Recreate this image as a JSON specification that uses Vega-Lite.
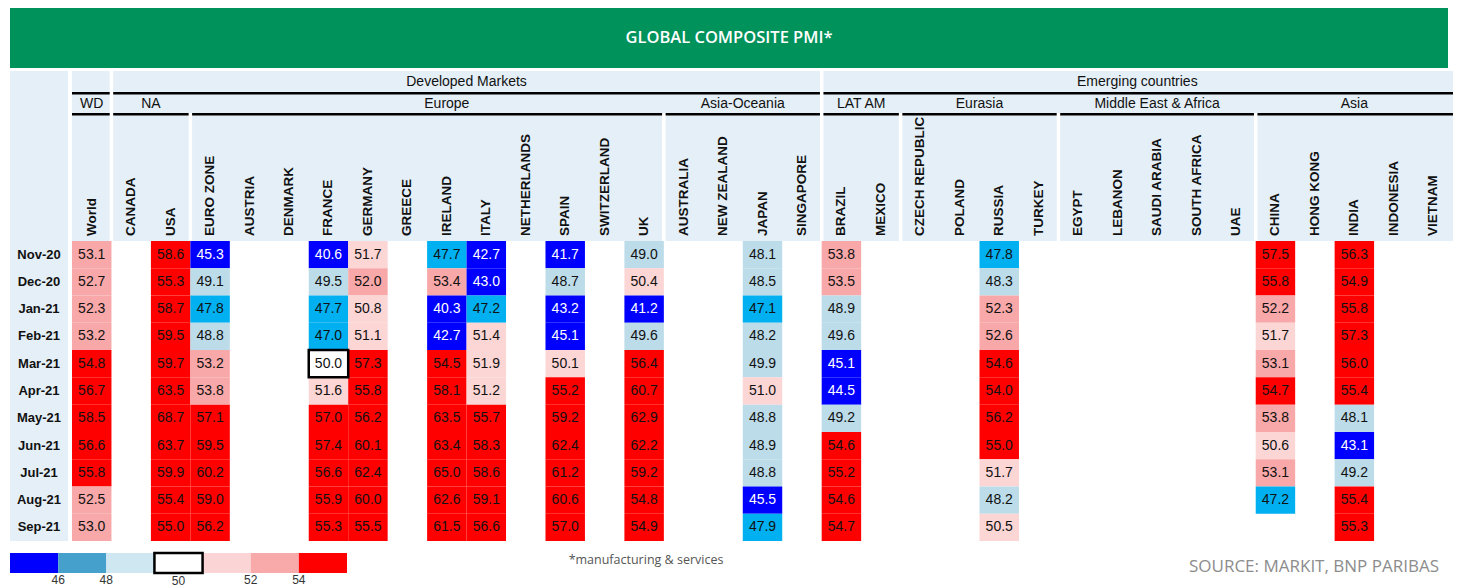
{
  "$schema": "https://vega.github.io/schema/vega-lite/v6.json",
  "padding": {"left": 10, "top": 8, "right": 0, "bottom": 0},
  "background": "white",
  "config": {
    "view": {"stroke": null},
    "axis": {"disable": true},
    "legend": {"disable": true},
    "text": {"font": "Liberation Sans"}
  },
  "datasets": {
    "pmi": [
      {"month": "Nov-20", "World": 53.1, "USA": 58.6, "EURO ZONE": 45.3, "FRANCE": 40.6, "GERMANY": 51.7, "IRELAND": 47.7, "ITALY": 42.7, "SPAIN": 41.7, "UK": 49.0, "JAPAN": 48.1, "BRAZIL": 53.8, "RUSSIA": 47.8, "CHINA": 57.5, "INDIA": 56.3},
      {"month": "Dec-20", "World": 52.7, "USA": 55.3, "EURO ZONE": 49.1, "FRANCE": 49.5, "GERMANY": 52.0, "IRELAND": 53.4, "ITALY": 43.0, "SPAIN": 48.7, "UK": 50.4, "JAPAN": 48.5, "BRAZIL": 53.5, "RUSSIA": 48.3, "CHINA": 55.8, "INDIA": 54.9},
      {"month": "Jan-21", "World": 52.3, "USA": 58.7, "EURO ZONE": 47.8, "FRANCE": 47.7, "GERMANY": 50.8, "IRELAND": 40.3, "ITALY": 47.2, "SPAIN": 43.2, "UK": 41.2, "JAPAN": 47.1, "BRAZIL": 48.9, "RUSSIA": 52.3, "CHINA": 52.2, "INDIA": 55.8},
      {"month": "Feb-21", "World": 53.2, "USA": 59.5, "EURO ZONE": 48.8, "FRANCE": 47.0, "GERMANY": 51.1, "IRELAND": 42.7, "ITALY": 51.4, "SPAIN": 45.1, "UK": 49.6, "JAPAN": 48.2, "BRAZIL": 49.6, "RUSSIA": 52.6, "CHINA": 51.7, "INDIA": 57.3},
      {"month": "Mar-21", "World": 54.8, "USA": 59.7, "EURO ZONE": 53.2, "FRANCE": 50.0, "GERMANY": 57.3, "IRELAND": 54.5, "ITALY": 51.9, "SPAIN": 50.1, "UK": 56.4, "JAPAN": 49.9, "BRAZIL": 45.1, "RUSSIA": 54.6, "CHINA": 53.1, "INDIA": 56.0},
      {"month": "Apr-21", "World": 56.7, "USA": 63.5, "EURO ZONE": 53.8, "FRANCE": 51.6, "GERMANY": 55.8, "IRELAND": 58.1, "ITALY": 51.2, "SPAIN": 55.2, "UK": 60.7, "JAPAN": 51.0, "BRAZIL": 44.5, "RUSSIA": 54.0, "CHINA": 54.7, "INDIA": 55.4},
      {"month": "May-21", "World": 58.5, "USA": 68.7, "EURO ZONE": 57.1, "FRANCE": 57.0, "GERMANY": 56.2, "IRELAND": 63.5, "ITALY": 55.7, "SPAIN": 59.2, "UK": 62.9, "JAPAN": 48.8, "BRAZIL": 49.2, "RUSSIA": 56.2, "CHINA": 53.8, "INDIA": 48.1},
      {"month": "Jun-21", "World": 56.6, "USA": 63.7, "EURO ZONE": 59.5, "FRANCE": 57.4, "GERMANY": 60.1, "IRELAND": 63.4, "ITALY": 58.3, "SPAIN": 62.4, "UK": 62.2, "JAPAN": 48.9, "BRAZIL": 54.6, "RUSSIA": 55.0, "CHINA": 50.6, "INDIA": 43.1},
      {"month": "Jul-21", "World": 55.8, "USA": 59.9, "EURO ZONE": 60.2, "FRANCE": 56.6, "GERMANY": 62.4, "IRELAND": 65.0, "ITALY": 58.6, "SPAIN": 61.2, "UK": 59.2, "JAPAN": 48.8, "BRAZIL": 55.2, "RUSSIA": 51.7, "CHINA": 53.1, "INDIA": 49.2},
      {"month": "Aug-21", "World": 52.5, "USA": 55.4, "EURO ZONE": 59.0, "FRANCE": 55.9, "GERMANY": 60.0, "IRELAND": 62.6, "ITALY": 59.1, "SPAIN": 60.6, "UK": 54.8, "JAPAN": 45.5, "BRAZIL": 54.6, "RUSSIA": 48.2, "CHINA": 47.2, "INDIA": 55.4},
      {"month": "Sep-21", "World": 53.0, "USA": 55.0, "EURO ZONE": 56.2, "FRANCE": 55.3, "GERMANY": 55.5, "IRELAND": 61.5, "ITALY": 56.6, "SPAIN": 57.0, "UK": 54.9, "JAPAN": 47.9, "BRAZIL": 54.7, "RUSSIA": 50.5, "INDIA": 55.3}
    ],
    "countries": [
      {"c": "World"}, {"c": "CANADA"}, {"c": "USA"}, {"c": "EURO ZONE"}, {"c": "AUSTRIA"}, {"c": "DENMARK"}, {"c": "FRANCE"}, {"c": "GERMANY"}, {"c": "GREECE"}, {"c": "IRELAND"}, {"c": "ITALY"}, {"c": "NETHERLANDS"}, {"c": "SPAIN"}, {"c": "SWITZERLAND"}, {"c": "UK"}, {"c": "AUSTRALIA"}, {"c": "NEW ZEALAND"}, {"c": "JAPAN"}, {"c": "SINGAPORE"}, {"c": "BRAZIL"}, {"c": "MEXICO"}, {"c": "CZECH REPUBLIC"}, {"c": "POLAND"}, {"c": "RUSSIA"}, {"c": "TURKEY"}, {"c": "EGYPT"}, {"c": "LEBANON"}, {"c": "SAUDI ARABIA"}, {"c": "SOUTH AFRICA"}, {"c": "UAE"}, {"c": "CHINA"}, {"c": "HONG KONG"}, {"c": "INDIA"}, {"c": "INDONESIA"}, {"c": "VIETNAM"}
    ]
  },
  "spacing": 3,
  "vconcat": [
    {
      "width": 1438, "height": 60,
      "view": {"fill": "#00925b", "stroke": null},
      "data": {"values": [{"t": "GLOBAL COMPOSITE PMI*"}]},
      "mark": {"type": "text", "font": "Open Sans", "fontSize": 16.5, "fontWeight": 600, "color": "white"},
      "encoding": {"text": {"field": "t"}}
    },
    {
      "spacing": 10,
      "vconcat": [
        {
          "spacing": 0,
          "vconcat": [
            {
              "spacing": 4,
              "hconcat": [
                {
                  "width": 58, "height": 170,
                  "view": {"fill": "#e4eff7", "stroke": null},
                  "data": {"values": [{"t": ""}]},
                  "mark": "text",
                  "encoding": {"text": {"field": "t"}}
                },
                {
                  "spacing": 0,
                  "vconcat": [
                    {
                      "width": 1381, "height": 21,
                      "view": {"fill": "#e4eff7", "stroke": null},
                      "layer": [
                        {
                          "data": {"values": [{"label": "Developed Markets", "anchor": "ITALY"}, {"label": "Emerging countries", "anchor": "SAUDI ARABIA"}]},
                          "mark": {"type": "text", "font": "Liberation Sans", "fontSize": 14, "color": "#111111"},
                          "encoding": {
                            "x": {"field": "anchor", "type": "nominal", "bandPosition": 0,
                                  "scale": {"type": "band", "paddingInner": 0, "paddingOuter": 0, "domain": ["World","CANADA","USA","EURO ZONE","AUSTRIA","DENMARK","FRANCE","GERMANY","GREECE","IRELAND","ITALY","NETHERLANDS","SPAIN","SWITZERLAND","UK","AUSTRALIA","NEW ZEALAND","JAPAN","SINGAPORE","BRAZIL","MEXICO","CZECH REPUBLIC","POLAND","RUSSIA","TURKEY","EGYPT","LEBANON","SAUDI ARABIA","SOUTH AFRICA","UAE","CHINA","HONG KONG","INDIA","INDONESIA","VIETNAM"]}},
                            "text": {"field": "label"}
                          }
                        },
                        {
                          "data": {"values": [{"c": "CANADA"}, {"c": "BRAZIL"}]},
                          "mark": {"type": "rect", "color": "white", "xOffset": -1.75, "x2Offset": 1.75},
                          "encoding": {"x": {"field": "c", "type": "nominal", "bandPosition": 0}, "x2": {"field": "c", "bandPosition": 0}}
                        }
                      ]
                    },
                    {
                      "width": 1381, "height": 21,
                      "view": {"fill": "#e4eff7", "stroke": null},
                      "layer": [
                        {
                          "data": {"values": [{"from": "World", "to": "VIETNAM"}]},
                          "mark": {"type": "rect", "color": "#000000", "y": 0, "y2": 2.5},
                          "encoding": {
                            "x": {"field": "from", "type": "nominal", "bandPosition": 0,
                                  "scale": {"type": "band", "paddingInner": 0, "paddingOuter": 0, "domain": ["World","CANADA","USA","EURO ZONE","AUSTRIA","DENMARK","FRANCE","GERMANY","GREECE","IRELAND","ITALY","NETHERLANDS","SPAIN","SWITZERLAND","UK","AUSTRALIA","NEW ZEALAND","JAPAN","SINGAPORE","BRAZIL","MEXICO","CZECH REPUBLIC","POLAND","RUSSIA","TURKEY","EGYPT","LEBANON","SAUDI ARABIA","SOUTH AFRICA","UAE","CHINA","HONG KONG","INDIA","INDONESIA","VIETNAM"]}},
                            "x2": {"field": "to", "bandPosition": 1}
                          }
                        },
                        {
                          "data": {"values": [{"label": "WD", "anchor": "World"}, {"label": "Europe", "anchor": "IRELAND"}, {"label": "Middle East & Africa", "anchor": "SAUDI ARABIA"}, {"label": "Asia", "anchor": "INDIA"}]},
                          "mark": {"type": "text", "font": "Liberation Sans", "fontSize": 14, "color": "#111111", "dy": 1},
                          "encoding": {"x": {"field": "anchor", "type": "nominal", "bandPosition": 0.5}, "text": {"field": "label"}}
                        },
                        {
                          "data": {"values": [{"label": "NA", "anchor": "USA"}, {"label": "Asia-Oceania", "anchor": "JAPAN"}, {"label": "LAT AM", "anchor": "MEXICO"}, {"label": "Eurasia", "anchor": "RUSSIA"}]},
                          "mark": {"type": "text", "font": "Liberation Sans", "fontSize": 14, "color": "#111111", "dy": 1},
                          "encoding": {"x": {"field": "anchor", "type": "nominal", "bandPosition": 0}, "text": {"field": "label"}}
                        },
                        {
                          "data": {"values": [{"c": "CANADA"}, {"c": "BRAZIL"}]},
                          "mark": {"type": "rect", "color": "white", "xOffset": -1.75, "x2Offset": 1.75},
                          "encoding": {"x": {"field": "c", "type": "nominal", "bandPosition": 0}, "x2": {"field": "c", "bandPosition": 0}}
                        }
                      ]
                    },
                    {
                      "width": 1381, "height": 128,
                      "view": {"fill": "#e4eff7", "stroke": null},
                      "layer": [
                        {
                          "data": {"values": [{"from": "World", "to": "VIETNAM"}]},
                          "mark": {"type": "rect", "color": "#000000", "y": 0, "y2": 2.5},
                          "encoding": {
                            "x": {"field": "from", "type": "nominal", "bandPosition": 0,
                                  "scale": {"type": "band", "paddingInner": 0, "paddingOuter": 0, "domain": ["World","CANADA","USA","EURO ZONE","AUSTRIA","DENMARK","FRANCE","GERMANY","GREECE","IRELAND","ITALY","NETHERLANDS","SPAIN","SWITZERLAND","UK","AUSTRALIA","NEW ZEALAND","JAPAN","SINGAPORE","BRAZIL","MEXICO","CZECH REPUBLIC","POLAND","RUSSIA","TURKEY","EGYPT","LEBANON","SAUDI ARABIA","SOUTH AFRICA","UAE","CHINA","HONG KONG","INDIA","INDONESIA","VIETNAM"]}},
                            "x2": {"field": "to", "bandPosition": 1}
                          }
                        },
                        {
                          "data": {"name": "countries"},
                          "mark": {"type": "text", "font": "Liberation Sans", "fontSize": 13.5, "fontWeight": "bold", "color": "#111111", "angle": 270, "align": "left", "baseline": "middle", "y": "height", "yOffset": -5},
                          "encoding": {"x": {"field": "c", "type": "nominal", "bandPosition": 0.5}, "text": {"field": "c"}}
                        },
                        {
                          "data": {"values": [{"c": "CANADA"}, {"c": "EURO ZONE"}, {"c": "AUSTRALIA"}, {"c": "BRAZIL"}, {"c": "CZECH REPUBLIC"}, {"c": "EGYPT"}, {"c": "CHINA"}]},
                          "mark": {"type": "rect", "color": "white", "xOffset": -1.75, "x2Offset": 1.75},
                          "encoding": {"x": {"field": "c", "type": "nominal", "bandPosition": 0}, "x2": {"field": "c", "bandPosition": 0}}
                        }
                      ]
                    }
                  ]
                }
              ]
            },
            {
              "spacing": 4,
              "hconcat": [
                {
                  "width": 58, "height": 300,
                  "view": {"fill": "#e4eff7", "stroke": null},
                  "data": {"name": "pmi"},
                  "mark": {"type": "text", "fontSize": 13, "fontWeight": "bold", "color": "#111111"},
                  "encoding": {
                    "y": {"field": "month", "type": "nominal", "scale": {"type": "band", "paddingInner": 0, "paddingOuter": 0, "domain": ["Nov-20","Dec-20","Jan-21","Feb-21","Mar-21","Apr-21","May-21","Jun-21","Jul-21","Aug-21","Sep-21"]}},
                    "text": {"field": "month"}
                  }
                },
                {
                  "width": 1381, "height": 300,
                  "data": {"name": "pmi"},
                  "transform": [
                    {"fold": ["World","USA","EURO ZONE","FRANCE","GERMANY","IRELAND","ITALY","SPAIN","UK","JAPAN","BRAZIL","RUSSIA","CHINA","INDIA"], "as": ["country", "value"]},
                    {"filter": "isValid(datum.value)"}
                  ],
                  "encoding": {
                    "x": {"field": "country", "type": "nominal",
                          "scale": {"type": "band", "paddingInner": 0, "paddingOuter": 0, "domain": ["World","CANADA","USA","EURO ZONE","AUSTRIA","DENMARK","FRANCE","GERMANY","GREECE","IRELAND","ITALY","NETHERLANDS","SPAIN","SWITZERLAND","UK","AUSTRALIA","NEW ZEALAND","JAPAN","SINGAPORE","BRAZIL","MEXICO","CZECH REPUBLIC","POLAND","RUSSIA","TURKEY","EGYPT","LEBANON","SAUDI ARABIA","SOUTH AFRICA","UAE","CHINA","HONG KONG","INDIA","INDONESIA","VIETNAM"]}},
                    "y": {"field": "month", "type": "nominal",
                          "scale": {"type": "band", "paddingInner": 0, "paddingOuter": 0, "domain": ["Nov-20","Dec-20","Jan-21","Feb-21","Mar-21","Apr-21","May-21","Jun-21","Jul-21","Aug-21","Sep-21"]}}
                  },
                  "layer": [
                    {
                      "mark": {"type": "rect"},
                      "encoding": {
                        "color": {"field": "value", "type": "quantitative",
                                  "scale": {"type": "threshold", "domain": [46, 48, 50, 50.05, 52, 54], "range": ["#0000ff", "#00b0f0", "#bcdce9", "#ffffff", "#fcd5d5", "#f8a8a8", "#ff0000"]}}
                      }
                    },
                    {
                      "transform": [{"filter": "datum.value == 50"}],
                      "mark": {"type": "rect", "fill": "#ffffff", "stroke": "#000000", "strokeWidth": 2.5}
                    },
                    {
                      "mark": {"type": "text", "fontSize": 14},
                      "encoding": {
                        "text": {"field": "value", "type": "quantitative", "format": ".1f"},
                        "color": {"condition": {"test": "datum.value < 46", "value": "#ffffff"}, "value": "#111111"}
                      }
                    }
                  ]
                }
              ]
            }
          ]
        },
        {
          "spacing": 0,
          "hconcat": [
            {
              "width": 337, "height": 20,
              "layer": [
                {
                  "data": {"values": [{"k": "below 46"}, {"k": "46-48"}, {"k": "48-50"}, {"k": "50"}, {"k": "50-52"}, {"k": "52-54"}, {"k": "54+"}]},
                  "mark": {"type": "rect"},
                  "encoding": {
                    "x": {"field": "k", "type": "nominal", "scale": {"type": "band", "paddingInner": 0, "paddingOuter": 0, "domain": ["below 46", "46-48", "48-50", "50", "50-52", "52-54", "54+"]}},
                    "color": {"field": "k", "type": "nominal", "scale": {"domain": ["below 46", "46-48", "48-50", "50", "50-52", "52-54", "54+"], "range": ["#0000ff", "#45a1cb", "#cfe7f1", "#ffffff", "#fbd5d5", "#f8a9a9", "#ff0000"]}}
                  }
                },
                {
                  "data": {"values": [{"k": "50"}]},
                  "mark": {"type": "rect", "fill": "#ffffff", "stroke": "#000000", "strokeWidth": 2.5},
                  "encoding": {"x": {"field": "k", "type": "nominal"}}
                },
                {
                  "data": {"values": [{"k": "46-48", "t": "46"}, {"k": "48-50", "t": "48"}, {"k": "52-54", "t": "52"}, {"k": "54+", "t": "54"}]},
                  "mark": {"type": "text", "fontSize": 12, "color": "#333333", "baseline": "top", "y": "height", "yOffset": 2},
                  "encoding": {"x": {"field": "k", "type": "nominal", "bandPosition": 0}, "text": {"field": "t"}}
                },
                {
                  "data": {"values": [{"k": "50", "t": "50"}]},
                  "mark": {"type": "text", "fontSize": 12, "color": "#333333", "baseline": "top", "y": "height", "yOffset": 3},
                  "encoding": {"x": {"field": "k", "type": "nominal", "bandPosition": 0.5}, "text": {"field": "t"}}
                }
              ]
            },
            {
              "width": 596, "height": 20,
              "data": {"values": [{"t": "*manufacturing & services"}]},
              "mark": {"type": "text", "font": "Open Sans", "fontSize": 12.5, "color": "#555555", "dy": -3},
              "encoding": {"text": {"field": "t"}}
            },
            {
              "width": 495, "height": 20,
              "data": {"values": [{"t": "SOURCE: MARKIT, BNP PARIBAS"}]},
              "mark": {"type": "text", "font": "Open Sans", "fontSize": 17, "color": "#8c8c8c", "align": "right", "x": "width", "dy": 4},
              "encoding": {"text": {"field": "t"}}
            }
          ]
        }
      ]
    }
  ]
}
